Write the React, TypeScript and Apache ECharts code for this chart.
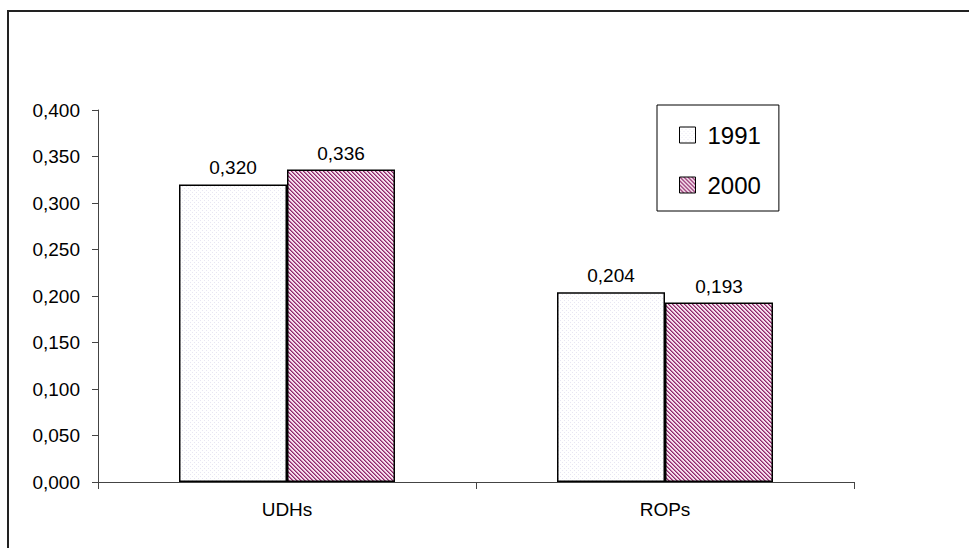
import React, { useEffect, useRef } from "react";
import * as echarts from "echarts";

const categories = ["UDHs", "ROPs"];
const seriesNames = ["1991", "2000"];
const values1991 = [0.32, 0.204];
const values2000 = [0.336, 0.193];
const yTicks = { min: 0, max: 0.4, interval: 0.05 };

const FONT = 'Arial, "Liberation Sans", sans-serif';

function makePattern(kind: "dots" | "hatch"): HTMLCanvasElement {
  const c = document.createElement("canvas");
  c.width = 4;
  c.height = 4;
  const ctx = c.getContext("2d")!;
  if (kind === "dots") {
    ctx.fillStyle = "#ffffff";
    ctx.fillRect(0, 0, 4, 4);
    ctx.fillStyle = "#e8e6f2";
    ctx.fillRect(0, 0, 1, 1);
    ctx.fillRect(2, 2, 1, 1);
  } else {
    for (let y = 0; y < 4; y++) {
      for (let x = 0; x < 4; x++) {
        const m = (((x - y) % 4) + 4) % 4;
        ctx.fillStyle = m === 0 ? "#8a2a6c" : m === 1 ? "#c070a0" : "#f4e0ec";
        ctx.fillRect(x, y, 1, 1);
      }
    }
  }
  return c;
}

const fmt = (v: number) => v.toFixed(3).replace(".", ",");

export default function App() {
  const ref = useRef<HTMLDivElement>(null);
  useEffect(() => {
    if (!ref.current) return;
    const chart = echarts.init(ref.current, undefined, { renderer: "svg" });
    const dots = { image: makePattern("dots"), repeat: "repeat" } as any;
    const hatch = { image: makePattern("hatch"), repeat: "repeat" } as any;
    const allValues = [values1991, values2000];
    const fills = [dots, hatch];
    chart.setOption({
      animation: false,
      backgroundColor: "#ffffff",
      textStyle: { fontFamily: FONT },
      graphic: [
        {
          type: "rect",
          shape: { x: 8, y: 11, width: 1000, height: 700 },
          style: { fill: "none", stroke: "#222", lineWidth: 2 },
          silent: true,
          z: -1,
        },
      ],
      grid: { left: 98, right: 115, top: 110, bottom: 66 },
      legend: {
        orient: "vertical",
        left: 657,
        top: 105,
        padding: [18, 18, 14, 22],
        itemGap: 26,
        itemWidth: 16,
        itemHeight: 16,
        borderColor: "#000",
        borderWidth: 1,
        backgroundColor: "#fff",
        icon: "rect",
        textStyle: { fontSize: 24, lineHeight: 24, color: "#000", fontFamily: FONT, padding: [0, 0, 0, 7] },
        itemStyle: { borderColor: "#000", borderWidth: 1 },
        data: seriesNames,
      },
      xAxis: {
        type: "category",
        data: categories,
        axisLine: { lineStyle: { color: "#444", width: 1 } },
        axisTick: { show: true, inside: false, length: 7, lineStyle: { color: "#444" } },
        axisLabel: { color: "#000", fontSize: 19, fontFamily: FONT, margin: 18 },
      },
      yAxis: {
        type: "value",
        min: yTicks.min,
        max: yTicks.max,
        interval: yTicks.interval,
        axisLine: { show: true, lineStyle: { color: "#444", width: 1 } },
        axisTick: { show: true, inside: false, length: 6, lineStyle: { color: "#444" } },
        splitLine: { show: false },
        axisLabel: { color: "#000", fontSize: 19, fontFamily: FONT, margin: 18, formatter: (v: number) => fmt(v) },
      },
      series: seriesNames.map((name, i) => ({
        name,
        type: "bar",
        data: allValues[i],
        barWidth: 108,
        barGap: "0%",
        itemStyle: { color: fills[i], borderColor: "#000", borderWidth: 1.5 },
        label: {
          show: true,
          position: "top",
          distance: 7,
          color: "#000",
          fontSize: 19,
          fontFamily: FONT,
          formatter: (p: any) => fmt(p.value),
        },
      })),
    });
    return () => chart.dispose();
  }, []);
  return (
    <div
      ref={ref}
      style={{ position: "fixed", left: 0, top: 0, width: 969, height: 548, background: "#fff" }}
    />
  );
}
